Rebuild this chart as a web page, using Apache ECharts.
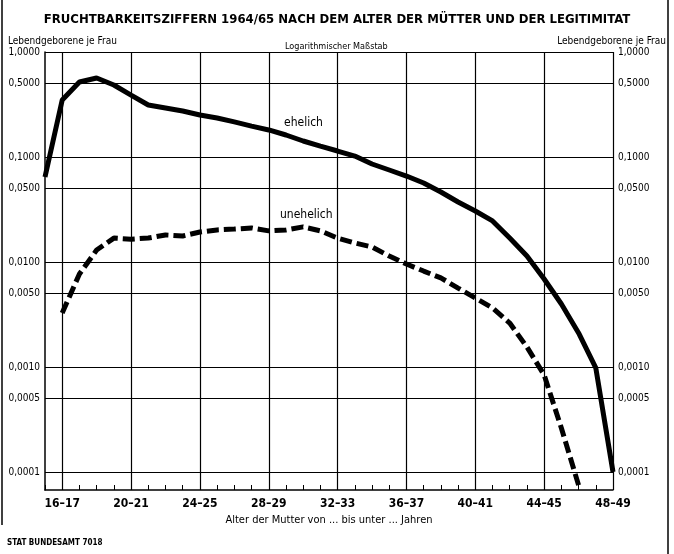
<!DOCTYPE html>
<html>
<head>
<meta charset="utf-8">
<script src="https://cdn.jsdelivr.net/npm/echarts@6/dist/echarts.min.js"></script>
<style>
  html, body { margin: 0; padding: 0; background: #fff; }
  #chart { width: 674px; height: 554px; }
</style>
</head>
<body>
<div id="chart"></div>
<script>
// ages 15..48, label = "a–(a+1)"
const ages = [15,16,17,18,19,20,21,22,23,24,25,26,27,28,29,30,31,32,33,34,35,36,37,38,39,40,41,42,43,44,45,46,47,48];
const ageLabels = ages.map(a => a + '\u2013' + (a + 1));

// Lebendgeborene je Frau
const ehelich = [0.0645,0.349,0.518,0.565,0.485,0.389,0.313,0.293,0.274,0.251,0.235,0.216,0.197,0.181,0.162,0.142,0.127,0.114,0.102,0.0858,0.0752,0.0659,0.0565,0.0464,0.0373,0.0306,0.0246,0.0169,0.0114,0.00689,0.00398,0.00211,0.00098,0.0001];
const unehelich = [null,0.00327,0.00769,0.0130,0.0169,0.0165,0.0169,0.0181,0.0177,0.0193,0.0202,0.0206,0.0211,0.0198,0.0202,0.0216,0.0198,0.0169,0.0152,0.0139,0.0114,0.00957,0.0082,0.00705,0.00565,0.00454,0.00365,0.00262,0.00155,0.00084,0.000262,0.000075,null,null];

const yTicks = [1, 0.5, 0.1, 0.05, 0.01, 0.005, 0.001, 0.0005, 0.0001];
const yTickLabels = ['1,0000','0,5000','0,1000','0,0500','0,0100','0,0050','0,0010','0,0005','0,0001'];

const font = '"DejaVu Sans Condensed", "Liberation Sans Narrow", sans-serif';
const showMajor = (i) => (i - 1) % 4 === 0;

const gridLines = [];
yTicks.forEach((v, i) => {
  gridLines.push({ yAxis: v, label: { position: 'start', formatter: yTickLabels[i] } });
  gridLines.push({ yAxis: v, label: { position: 'end', formatter: yTickLabels[i] } });
});

const myChart = echarts.init(document.getElementById('chart'));
const option = {
  backgroundColor: '#fff',
  animation: false,
  grid: { left: 45, right: 61, top: 52, bottom: 64 },
  title: {
    text: 'FRUCHTBARKEITSZIFFERN 1964/65 NACH DEM ALTER DER MÜTTER UND DER LEGITIMITAT',
    left: 'center',
    top: 8,
    textStyle: { fontFamily: font, fontSize: 13, fontWeight: 'bold', color: '#000' }
  },
  xAxis: {
    type: 'category',
    data: ageLabels,
    boundaryGap: false,
    name: 'Alter der Mutter von ... bis unter ... Jahren',
    nameLocation: 'middle',
    nameGap: 24,
    nameTextStyle: { fontFamily: font, fontSize: 11, color: '#000' },
    axisLine: { lineStyle: { color: '#000', width: 1.5 } },
    axisTick: { inside: true, length: 5, interval: 0, lineStyle: { color: '#000', width: 1 } },
    axisLabel: { interval: showMajor, fontFamily: font, fontSize: 12, fontWeight: 'bold', color: '#000', margin: 8 },
    splitLine: { show: true, interval: showMajor, lineStyle: { color: '#000', width: 1.2 } }
  },
  yAxis: {
    type: 'log',
    logBase: 10,
    min: 0.0000674,
    max: 1,
    axisLine: { show: true, lineStyle: { color: '#000', width: 1.5 } },
    axisTick: { show: false },
    axisLabel: { show: false },
    splitLine: { show: false }
  },
  graphic: [
    { type: 'text', left: 8, top: 36, style: { text: 'Lebendgeborene je Frau', font: '10px ' + font, fill: '#000' } },
    { type: 'text', right: 8, top: 36, style: { text: 'Lebendgeborene je Frau', font: '10px ' + font, fill: '#000' } },
    { type: 'text', left: 285, top: 42, style: { text: 'Logarithmischer Maßstab', font: '9px ' + font, fill: '#000' } },
    { type: 'text', left: 284, top: 117, style: { text: 'ehelich', font: '12px ' + font, fill: '#000' } },
    { type: 'text', left: 280, top: 209, style: { text: 'unehelich', font: '12px ' + font, fill: '#000' } },
    { type: 'text', left: 7, top: 539, style: { text: 'STAT BUNDESAMT 7018', font: 'bold 8px ' + font, fill: '#000' } },
    { type: 'line', shape: { x1: 2, y1: 0, x2: 2, y2: 525 }, style: { stroke: '#000', lineWidth: 1.5 } },
    { type: 'line', shape: { x1: 668, y1: 0, x2: 668, y2: 554 }, style: { stroke: '#000', lineWidth: 1.5 } }
  ],
  series: [
    {
      name: 'ehelich',
      type: 'line',
      data: ehelich,
      symbol: 'none',
      z: 5,
      lineStyle: { color: '#000', width: 5 },
      markLine: {
        silent: true,
        symbol: 'none',
        precision: 6,
        animation: false,
        lineStyle: { color: '#000', width: 1.2, type: 'solid' },
        label: { fontFamily: font, fontSize: 10, color: '#000', distance: 5 },
        data: gridLines
      }
    },
    {
      name: 'unehelich',
      type: 'line',
      data: unehelich,
      symbol: 'none',
      z: 5,
      lineStyle: { color: '#000', width: 5, type: [12, 5] }
    }
  ]
};
myChart.setOption(option);
</script>
</body>
</html>
